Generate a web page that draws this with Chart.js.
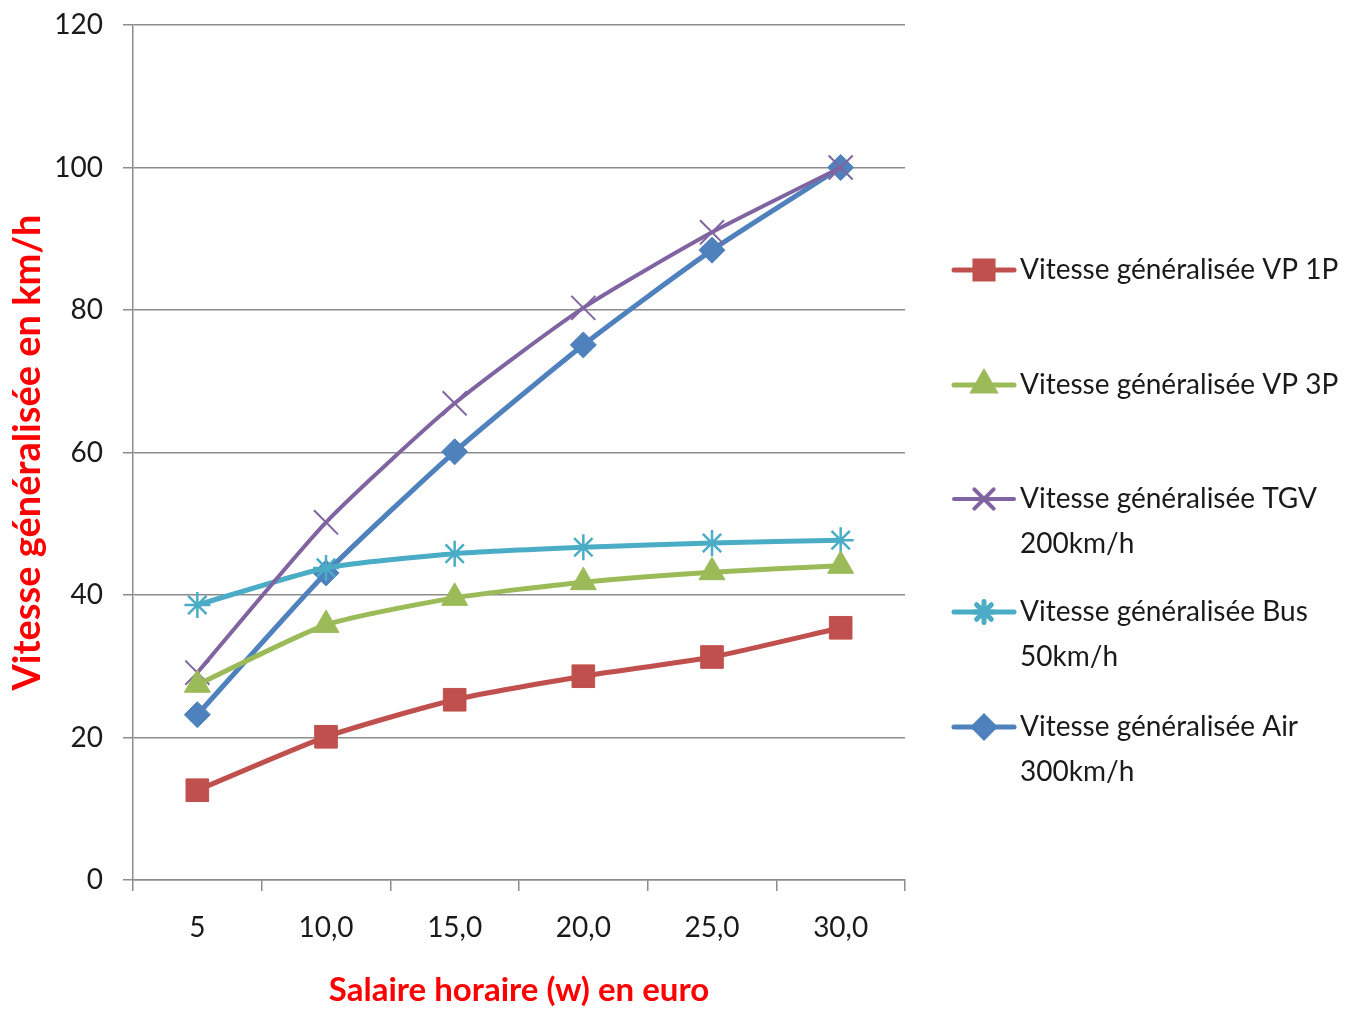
<!DOCTYPE html>
<html>
<head>
<meta charset="utf-8">
<script src="https://cdn.jsdelivr.net/npm/chart.js@4/dist/chart.umd.min.js"></script>
<style>
  html, body { margin: 0; padding: 0; background: #ffffff; }
  #wrap { width: 1346px; height: 1010px; position: relative; }
</style>
</head>
<body>
<div id="wrap"><canvas id="chart" width="1346" height="1010"></canvas></div>
<script>
// Hourly wage categories (euro)
const categories = ['5', '10,0', '15,0', '20,0', '25,0', '30,0'];

// Generalised speed (km/h) per transport mode
const vp1p = [12.6, 20.1, 25.3, 28.6, 31.3, 35.4];
const vp3p = [27.4, 35.8, 39.6, 41.8, 43.2, 44.1];
const tgv  = [29.1, 50.2, 66.9, 80.3, 90.9, 100.0];
const bus  = [38.6, 43.8, 45.8, 46.7, 47.3, 47.7];
const air  = [23.2, 43.1, 60.1, 75.1, 88.4, 100.0];

// Legend text, one entry per series (lines wrap as drawn)
const legendLabels = [
  ['Vitesse généralisée VP 1P'],
  ['Vitesse généralisée VP 3P'],
  ['Vitesse généralisée TGV', '200km/h'],
  ['Vitesse généralisée Bus', '50km/h'],
  ['Vitesse généralisée Air', '300km/h']
];

const yTicks = [0, 20, 40, 60, 80, 100, 120];

const FONT = 'Lato, "Open Sans", sans-serif';
const GRID = '#8c8c8c';

// Right-hand legend drawn on the canvas with the datasets' own styles
const sideLegend = {
  id: 'sideLegend',
  afterDraw(chart) {
    const ctx = chart.ctx;
    const rows = [270, 385, 499, 612, 727];
    ctx.save();
    chart.data.datasets.forEach((ds, i) => {
      const y = rows[i];
      ctx.strokeStyle = ds.borderColor;
      ctx.lineWidth = ds.borderWidth;
      ctx.lineCap = 'round';
      ctx.beginPath();
      ctx.moveTo(954, y);
      ctx.lineTo(1014, y);
      ctx.stroke();
      Chart.helpers.drawPoint(ctx, {
        pointStyle: ds.pointStyle,
        radius: ds.pointRadius * 0.8,
        rotation: 0,
        borderWidth: ds.pointBorderWidth
      }, 984, y);
      ctx.fillStyle = ds.pointBackgroundColor;
      ctx.strokeStyle = ds.pointBorderColor;
      ctx.lineWidth = ds.pointBorderWidth;
      if (ds.pointStyle !== 'crossRot' && ds.pointStyle !== 'star') ctx.fill();
      ctx.stroke();
      ctx.fillStyle = '#1a1a1a';
      ctx.font = '28px ' + FONT;
      ctx.textBaseline = 'middle';
      ctx.textAlign = 'left';
      legendLabels[i].forEach((line, k) => {
        ctx.fillText(line, 1020, y + k * 45);
      });
    });
    ctx.restore();
  }
};

function series(label, data, color, style, radius, bw, lw) {
  return {
    label, data,
    borderColor: color,
    backgroundColor: color,
    borderWidth: lw,
    pointStyle: style,
    pointRadius: radius,
    pointHoverRadius: radius,
    pointBackgroundColor: color,
    pointBorderColor: color,
    pointBorderWidth: bw,
    tension: 0.2,
    fill: false
  };
}

new Chart(document.getElementById('chart'), {
  type: 'line',
  data: {
    labels: categories,
    datasets: [
      series('Vitesse généralisée VP 1P', vp1p, '#C0504D', 'rect', 16, 1, 5),
      series('Vitesse généralisée VP 3P', vp3p, '#9BBB59', 'triangle', 15, 1, 5),
      series('Vitesse généralisée TGV 200km/h', tgv, '#8064A2', 'crossRot', 17, 2, 4),
      series('Vitesse généralisée Bus 50km/h', bus, '#4BACC6', 'star', 13, 2.5, 5),
      series('Vitesse généralisée Air 300km/h', air, '#4F81BD', 'rectRot', 13, 1, 5)
    ]
  },
  options: {
    responsive: false,
    animation: false,
    layout: { padding: { top: 25, right: 441, left: 0, bottom: 0 } },
    plugins: {
      legend: { display: false },
      tooltip: { enabled: false }
    },
    scales: {
      x: {
        offset: true,
        grid: {
          offset: true,
          drawOnChartArea: false,
          drawTicks: true,
          tickLength: 11,
          color: GRID,
          lineWidth: 1.5
        },
        border: { display: true, color: GRID, width: 1.5 },
        ticks: {
          color: '#1a1a1a',
          font: { family: FONT, size: 28 },
          padding: 20,
          maxRotation: 0
        },
        title: {
          display: true,
          text: 'Salaire horaire (w) en euro',
          color: '#ff0000',
          font: { family: FONT, size: 33, weight: 'bold' },
          padding: { top: 1, bottom: 0 }
        },
        afterFit(scale) {
          scale.height = 130;
          scale.paddingLeft = 0;
          scale.paddingRight = 0;
        }
      },
      y: {
        min: 0,
        max: 120,
        afterBuildTicks(scale) { scale.ticks = yTicks.map(v => ({ value: v })); },
        grid: {
          color: GRID,
          lineWidth: 1.5,
          tickLength: 10
        },
        border: { display: true, color: GRID, width: 1.5 },
        ticks: {
          color: '#1a1a1a',
          font: { family: FONT, size: 28 },
          padding: 20
        },
        title: {
          display: true,
          text: 'Vitesse généralisée en km/h',
          color: '#ff0000',
          font: { family: FONT, size: 38, weight: 'bold' },
          padding: { top: 5, bottom: 0 }
        },
        afterFit(scale) {
          scale.width = 133;
          scale.paddingTop = 0;
          scale.paddingBottom = 0;
        }
      }
    }
  },
  plugins: [sideLegend]
});
</script>
</body>
</html>
